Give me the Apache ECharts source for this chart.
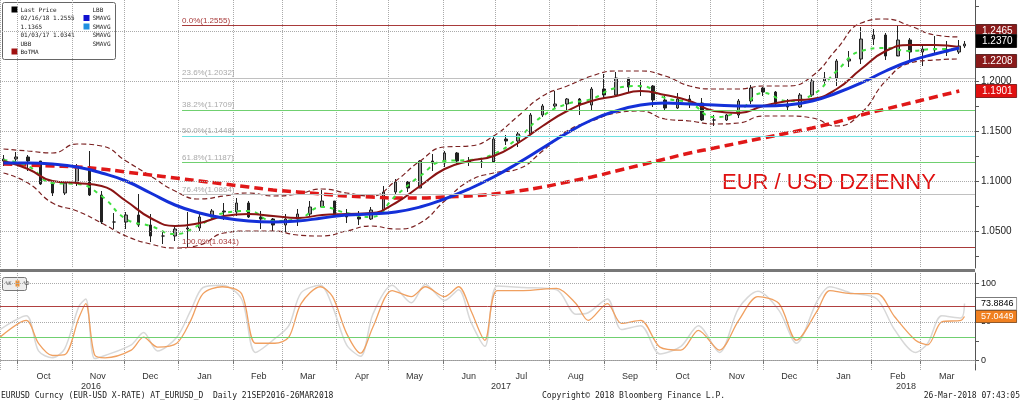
<!DOCTYPE html>
<html><head><meta charset="utf-8">
<script src="https://cdn.jsdelivr.net/npm/echarts@6/dist/echarts.min.js"></script>
<style>html,body{margin:0;padding:0;background:#fff}#c{width:1024px;height:401px}</style>
</head><body><div id="c"></div>
<script>
const weekDates=['2016-09-23','2016-09-30','2016-10-07','2016-10-14','2016-10-21','2016-10-28','2016-11-04','2016-11-11','2016-11-18','2016-11-25','2016-12-02','2016-12-09','2016-12-16','2016-12-23','2016-12-30',
'2017-01-06','2017-01-13','2017-01-20','2017-01-27','2017-02-03','2017-02-10','2017-02-17','2017-02-24','2017-03-03','2017-03-10','2017-03-17','2017-03-24','2017-03-31','2017-04-07','2017-04-14','2017-04-21','2017-04-28',
'2017-05-05','2017-05-12','2017-05-19','2017-05-26','2017-06-02','2017-06-09','2017-06-16','2017-06-23','2017-06-30','2017-07-07','2017-07-14','2017-07-21','2017-07-28','2017-08-04','2017-08-11','2017-08-18','2017-08-25','2017-09-01',
'2017-09-08','2017-09-15','2017-09-22','2017-09-29','2017-10-06','2017-10-13','2017-10-20','2017-10-27','2017-11-03','2017-11-10','2017-11-17','2017-11-24','2017-12-01','2017-12-08','2017-12-15','2017-12-22','2017-12-29',
'2018-01-05','2018-01-12','2018-01-19','2018-01-26','2018-02-02','2018-02-09','2018-02-16','2018-02-23','2018-03-02','2018-03-09','2018-03-16','2018-03-23','2018-03-26'];
const closes=[1.122,1.124,1.120,1.097,1.088,1.098,1.114,1.086,1.059,1.059,1.066,1.056,1.045,1.045,1.052,
1.053,1.064,1.070,1.069,1.078,1.064,1.062,1.056,1.062,1.067,1.074,1.080,1.066,1.064,1.062,1.071,1.089,
1.099,1.093,1.120,1.118,1.128,1.120,1.119,1.119,1.142,1.140,1.147,1.166,1.175,1.177,1.182,1.176,1.192,1.186,
1.203,1.194,1.195,1.181,1.173,1.182,1.178,1.161,1.161,1.166,1.180,1.193,1.189,1.177,1.174,1.186,1.200,
1.203,1.220,1.222,1.242,1.246,1.225,1.241,1.229,1.232,1.231,1.229,1.235,1.237];
const highs=[1.126,1.129,1.126,1.120,1.099,1.100,1.117,1.130,1.090,1.068,1.069,1.087,1.067,1.049,1.055,
1.069,1.068,1.072,1.078,1.083,1.080,1.070,1.063,1.067,1.072,1.080,1.091,1.080,1.072,1.070,1.074,1.095,
1.102,1.100,1.121,1.127,1.130,1.129,1.124,1.123,1.145,1.146,1.149,1.168,1.177,1.190,1.183,1.183,1.194,1.207,
1.209,1.199,1.201,1.196,1.185,1.188,1.186,1.183,1.166,1.167,1.182,1.196,1.194,1.190,1.182,1.188,1.202,
1.209,1.222,1.230,1.254,1.252,1.248,1.256,1.243,1.236,1.245,1.240,1.241,1.240];
const lows=[1.115,1.117,1.110,1.096,1.085,1.086,1.095,1.085,1.057,1.052,1.052,1.054,1.039,1.037,1.040,
1.034,1.050,1.061,1.061,1.065,1.063,1.052,1.050,1.049,1.055,1.065,1.073,1.064,1.058,1.056,1.061,1.071,
1.086,1.089,1.093,1.110,1.114,1.116,1.115,1.113,1.120,1.136,1.134,1.146,1.164,1.172,1.171,1.166,1.170,1.182,
1.185,1.189,1.185,1.174,1.170,1.172,1.173,1.160,1.155,1.160,1.163,1.177,1.185,1.175,1.170,1.173,1.184,
1.197,1.195,1.214,1.217,1.236,1.221,1.226,1.220,1.215,1.228,1.225,1.227,1.233];
const firstOpen=1.120;

const maDates=['2016-09-23','2016-10-07','2016-10-21','2016-11-04','2016-11-18','2016-12-02','2016-12-16','2016-12-30','2017-01-13','2017-01-27','2017-02-10','2017-02-24','2017-03-10','2017-03-24','2017-04-07','2017-04-21','2017-05-05','2017-05-19','2017-06-02','2017-06-16','2017-06-30','2017-07-14','2017-07-28','2017-08-11','2017-08-25','2017-09-08','2017-09-22','2017-10-06','2017-10-20','2017-11-03','2017-11-17','2017-12-01','2017-12-15','2017-12-29','2018-01-12','2018-01-26','2018-02-09','2018-02-23','2018-03-09','2018-03-23'];
const sma200=[1.117,1.116,1.115,1.114,1.112,1.109,1.106,1.103,1.100,1.097,1.094,1.091,1.089,1.087,1.085,1.084,1.083,1.083,1.084,1.085,1.087,1.090,1.094,1.099,1.104,1.110,1.116,1.122,1.128,1.133,1.138,1.143,1.148,1.153,1.159,1.166,1.172,1.178,1.184,1.190];
const sma50=[1.118,1.118,1.117,1.114,1.108,1.100,1.088,1.076,1.068,1.063,1.060,1.059,1.060,1.063,1.066,1.067,1.069,1.074,1.082,1.092,1.104,1.118,1.133,1.148,1.161,1.170,1.176,1.178,1.177,1.176,1.175,1.175,1.176,1.180,1.188,1.198,1.210,1.220,1.227,1.233];
const sma20=[1.120,1.112,1.100,1.098,1.095,1.080,1.063,1.055,1.058,1.065,1.067,1.065,1.063,1.066,1.067,1.068,1.078,1.095,1.112,1.120,1.125,1.138,1.155,1.170,1.180,1.185,1.190,1.186,1.180,1.170,1.168,1.175,1.180,1.182,1.192,1.212,1.230,1.236,1.236,1.234];
const sma10=[1.121,1.115,1.098,1.097,1.085,1.062,1.055,1.047,1.056,1.068,1.070,1.060,1.062,1.074,1.068,1.064,1.085,1.105,1.120,1.121,1.127,1.143,1.165,1.177,1.182,1.193,1.195,1.183,1.178,1.164,1.170,1.188,1.180,1.186,1.210,1.230,1.233,1.230,1.232,1.232];
const bbUpper=[1.132,1.130,1.128,1.137,1.135,1.120,1.105,1.090,1.082,1.085,1.088,1.085,1.087,1.092,1.088,1.085,1.100,1.120,1.134,1.135,1.145,1.165,1.185,1.195,1.205,1.210,1.210,1.205,1.195,1.192,1.192,1.195,1.195,1.205,1.232,1.258,1.262,1.255,1.246,1.244];
const bbLower=[1.108,1.098,1.078,1.070,1.058,1.045,1.037,1.033,1.036,1.048,1.050,1.050,1.046,1.045,1.050,1.055,1.052,1.058,1.080,1.100,1.108,1.112,1.130,1.150,1.160,1.168,1.170,1.162,1.160,1.157,1.158,1.165,1.165,1.163,1.155,1.168,1.200,1.218,1.221,1.222];

const stochDates=['2016-09-21','2016-10-06','2016-10-13','2016-10-21','2016-10-28','2016-11-05','2016-11-09','2016-11-14','2016-11-20','2016-12-05','2016-12-12','2016-12-20','2016-12-31','2017-01-08','2017-01-15','2017-01-26','2017-02-06','2017-02-14','2017-02-25','2017-03-05','2017-03-12','2017-03-23','2017-03-30','2017-04-07','2017-04-15','2017-04-22','2017-05-03','2017-05-14','2017-05-22','2017-06-02','2017-06-10','2017-06-17','2017-06-25','2017-07-02','2017-07-17','2017-08-05','2017-08-16','2017-08-23','2017-09-03','2017-09-11','2017-09-22','2017-10-03','2017-10-15','2017-10-25','2017-11-06','2017-11-17','2017-11-28','2017-12-10','2017-12-20','2018-01-01','2018-01-08','2018-01-20','2018-02-04','2018-02-14','2018-02-26','2018-03-05','2018-03-13','2018-03-24','2018-03-26'];
const stochD=[30,52,22,6,7,55,74,7,3,13,30,17,22,52,87,96,87,22,22,30,74,96,83,35,9,43,91,83,96,83,96,65,26,91,91,94,74,52,74,48,52,17,13,39,13,52,83,74,26,65,91,87,87,57,26,20,50,52,57];
const stochK=[40,58,12,3,15,70,80,2,6,20,36,12,30,65,95,98,80,10,28,45,88,98,70,20,5,60,98,75,99,78,92,50,18,97,95,92,60,62,80,40,45,8,18,45,10,68,90,65,22,78,96,88,80,40,10,22,58,55,74];

const fibLevels=[1.2555,1.2032,1.1709,1.1448,1.1187,1.0864,1.0341];
const fibNames=['0.0%','23.6%','38.2%','50.0%','61.8%','76.4%','100.0%'];
const fibColors=['#a83a3a','#c0c0c0','#70d070','#70e0e0','#70d070','#c0c0c0','#a83a3a'];
const fibStart='2017-01-03';
const priceTags=[[1.2465,'#8a1a1a','#fff'],[1.2370,'#000','#fff'],[1.2208,'#8a1a1a','#fff'],[1.1901,'#e01010','#fff']];
const priceGrid=[1.05,1.10,1.15,1.20,1.25];
const priceLabels=[1.05,1.10,1.15,1.20];
const stochTags=[[73.8846,'#fff','#000'],[57.0449,'#f08020','#fff']];
const stochGrid=[0,50,100];
const stochLines=[[70,'#b04040'],[30,'#70d070']];

const monthNames=['Jan','Feb','Mar','Apr','May','Jun','Jul','Aug','Sep','Oct','Nov','Dec'];
const candle=weekDates.map((d,i)=>[d,i?closes[i-1]:firstOpen,closes[i],lows[i],highs[i]]);
const pair=(ds,vs)=>ds.map((d,i)=>[d,vs[i]]);
const F='Liberation Sans';
const xMin='2016-09-21',xMax='2018-04-01';
const DAY=86400000;
const xBase={type:'time',min:xMin,max:xMax,minInterval:28*DAY,maxInterval:31*DAY,splitNumber:20,axisLine:{show:false},axisTick:{show:false},splitLine:{show:true,lineStyle:{type:'dotted',color:'#aaa'}},axisLabel:{show:false}};
const hidden={color:'rgba(0,0,0,0)',width:0};
const tag=(t,fs,pad)=>({yAxis:t[0],lineStyle:hidden,label:{show:true,position:'end',distance:1,formatter:t[0].toFixed(4),backgroundColor:t[1],color:t[2],borderColor:'#333',borderWidth:0.5,fontSize:fs,fontFamily:F,padding:pad}});

const fibMarks=fibLevels.map((v,i)=>[{coord:[fibStart,v],lineStyle:{color:fibColors[i],type:'solid',width:1},label:{show:true,position:'insideStartTop',formatter:fibNames[i]+'('+v.toFixed(4)+')',color:i==0||i==6?'#a83a3a':'#aaa',fontSize:8,fontFamily:F,distance:[0,1]}},{coord:[xMax,v]}]);
const chart=echarts.init(document.getElementById('c'));
chart.setOption({
 animation:false,
 grid:[{left:0,right:49,top:0,height:268},{left:0,right:49,top:273,height:97}],
 xAxis:[Object.assign({gridIndex:0},xBase),
  Object.assign({},xBase,{gridIndex:1,axisLine:{show:true,lineStyle:{color:'#999'}},axisTick:{show:true,length:4,lineStyle:{color:'#777'}},
   axisLabel:{show:true,fontSize:9,fontFamily:F,color:'#333',align:'center',padding:[0,0,0,52],margin:2,hideOverlap:false,
    formatter:v=>{const d=new Date(v);return (d.getFullYear()==2018&&d.getMonth()==3)?'':monthNames[d.getMonth()];}}})],
 yAxis:[{gridIndex:0,type:'value',position:'right',min:1.013,max:1.281,splitLine:{show:false},
   axisLine:{show:true,lineStyle:{color:'#555'}},axisTick:{show:true,inside:false,length:4,customValues:[1.025,1.05,1.075,1.1,1.125,1.15,1.175,1.2,1.225,1.25,1.275]},
   axisLabel:{fontSize:10,fontFamily:F,color:'#222',margin:6,customValues:priceLabels,formatter:v=>v.toFixed(4)}},
  {gridIndex:1,type:'value',position:'right',min:-13,max:114,splitLine:{show:false},
   axisLine:{show:true,lineStyle:{color:'#555'}},axisTick:{show:true,length:4,customValues:[0,25,50,75,100]},
   axisLabel:{fontSize:9,fontFamily:F,color:'#222',margin:6,customValues:[0,50,100]}}],
 series:[
  {type:'line',data:pair(maDates,bbUpper),symbol:'none',smooth:true,lineStyle:{color:'#7a2020',width:1.2,type:[5,3]},
   markLine:{symbol:'none',silent:true,data:[
    ...priceGrid.map(v=>({yAxis:v,lineStyle:{color:'#aaa',type:'dotted',width:1},label:{show:false}})),
    ...fibMarks]}},
  {type:'line',data:pair(maDates,bbLower),symbol:'none',smooth:true,lineStyle:{color:'#7a2020',width:1.2,type:[5,3]}},
  {type:'line',data:pair(maDates,sma200),symbol:'none',smooth:true,lineStyle:{color:'#e01818',width:3.5,type:[9,5]}},
  {type:'candlestick',data:candle,encode:{x:0,y:[1,2,3,4]},barMaxWidth:3,itemStyle:{color:'#999',color0:'#222',borderColor:'#222',borderColor0:'#222',borderWidth:1}},
  {type:'line',data:pair(maDates,sma10),symbol:'none',smooth:true,lineStyle:{color:'#40e040',width:2,type:[4,5]}},
  {type:'line',data:pair(maDates,sma20),symbol:'none',smooth:true,lineStyle:{color:'#8a1414',width:2}},
  {type:'line',data:pair(maDates,sma50),symbol:'none',smooth:true,lineStyle:{color:'#1430d8',width:3},
   markLine:{symbol:'none',silent:true,data:priceTags.map(t=>tag(t,10,[2,4,1,6]))}},
  {type:'line',xAxisIndex:1,yAxisIndex:1,data:pair(stochDates,stochK),symbol:'none',smooth:0.3,lineStyle:{color:'#d8d8d8',width:1.5}},
  {type:'line',xAxisIndex:1,yAxisIndex:1,data:pair(stochDates,stochD),symbol:'none',smooth:0.3,lineStyle:{color:'#f0a060',width:1.3},
   markLine:{symbol:'none',silent:true,data:[
    ...stochGrid.map(v=>({yAxis:v,lineStyle:{color:'#aaa',type:'dotted',width:1},label:{show:false}})),
    ...stochLines.map(s=>({yAxis:s[0],lineStyle:{color:s[1],type:'solid',width:1},label:{show:false}})),
    ...stochTags.map(t=>tag(t,9,[2,3,1,5]))
   ]}}
 ],
 graphic:[
  {type:'line',shape:{x1:0,y1:270.5,x2:975,y2:270.5},style:{stroke:'#777',lineWidth:3}},
  {type:'text',left:722,top:172,style:{text:'EUR / USD DZIENNY',font:'22px "Liberation Sans"',fill:'#e01010'}},
  {type:'group',left:2,top:2,children:[
   {type:'rect',shape:{x:0,y:0,width:113,height:57,r:2},style:{fill:'#fff',stroke:'#666',lineWidth:1}},
   {type:'rect',shape:{x:9,y:4,width:6,height:6},style:{fill:'#000'}},
   {type:'text',x:18,y:3.5,style:{text:'Last Price\n02/16/18 1.2555\n1.1365\n01/03/17 1.0341\nUBB\nBoTMA',font:'6px "DejaVu Sans Mono"',fill:'#222',lineHeight:8.5}},
   {type:'rect',shape:{x:9,y:46,width:6,height:6},style:{fill:'#a01010'}},
   {type:'rect',shape:{x:81,y:12.5,width:6,height:6},style:{fill:'#1010d0'}},
   {type:'rect',shape:{x:81,y:21,width:6,height:6},style:{fill:'#2090e0'}},
   {type:'text',x:90,y:3.5,style:{text:'LBB\nSMAVG\nSMAVG\nSMAVG\nSMAVG',font:'6px "DejaVu Sans Mono"',fill:'#222',lineHeight:8.5}}
  ]},
  {type:'group',left:2,top:277,children:[
   {type:'rect',shape:{x:0,y:0,width:24,height:13,r:2},style:{fill:'#eee',stroke:'#777',lineWidth:1}},
   {type:'rect',shape:{x:13,y:3,width:4,height:6},style:{fill:'#f09030'}},
   {type:'text',x:3,y:4,style:{text:'%K    %D',font:'5px "DejaVu Sans Mono"',fill:'#444'}}
  ]},
  {type:'text',left:81,top:382,style:{text:'2016',font:'9px "Liberation Sans"',fill:'#333'}},
  {type:'text',left:491,top:382,style:{text:'2017',font:'9px "Liberation Sans"',fill:'#333'}},
  {type:'text',left:896,top:382,style:{text:'2018',font:'9px "Liberation Sans"',fill:'#333'}},
  {type:'text',left:1,top:392,style:{text:'EURUSD Curncy (EUR-USD X-RATE) AT_EURUSD_D  Daily 21SEP2016-26MAR2018',font:'8px "DejaVu Sans Mono"',fill:'#222'}},
  {type:'text',left:542,top:392,style:{text:'Copyright© 2018 Bloomberg Finance L.P.',font:'8px "DejaVu Sans Mono"',fill:'#222'}},
  {type:'text',right:4,top:392,style:{text:'26-Mar-2018 07:43:05',font:'8px "DejaVu Sans Mono"',fill:'#222'}}
 ]
});
</script></body></html>
